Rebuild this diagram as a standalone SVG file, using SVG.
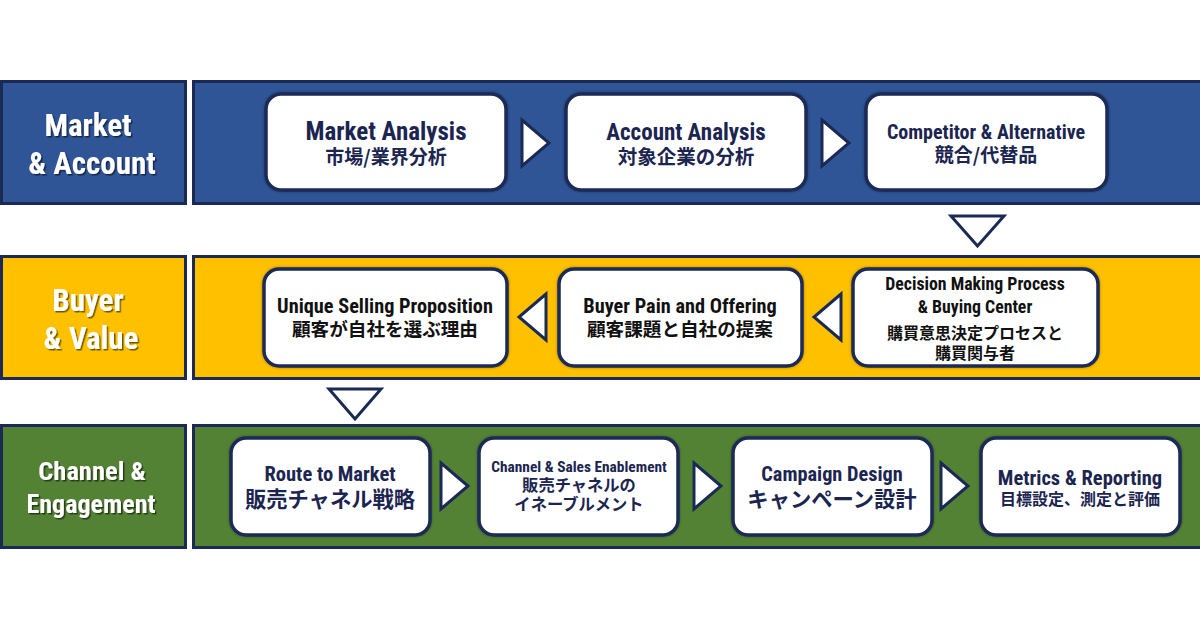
<svg xmlns="http://www.w3.org/2000/svg" width="1200" height="630" viewBox="0 0 1200 630">
<defs>
<filter id="ts" x="-10%" y="-10%" width="130%" height="140%">
<feDropShadow dx="1.5" dy="1.5" stdDeviation="0.6" flood-color="#000" flood-opacity="0.55"/>
</filter>
<filter id="glow" x="-5%" y="-5%" width="110%" height="110%">
<feDropShadow dx="0" dy="0" stdDeviation="1.5" flood-color="#000" flood-opacity="0.35"/>
</filter>
</defs>
<style>
.band{stroke:#1b2a55;stroke-width:3}
.blue{fill:#2f5597}
.yellow{fill:#ffc000}
.green{fill:#548235}
.node{fill:#fff;stroke:#1b2a55;stroke-width:3.5}
.lbl{font-family:"Liberation Sans Narrow","Roboto Condensed","Liberation Sans",Arial,sans-serif;font-weight:bold;fill:#fff;text-anchor:middle}
.t{font-family:"Liberation Sans Narrow","Roboto Condensed","Liberation Sans",Arial,sans-serif;font-weight:bold;fill:#1b2550;text-anchor:middle}
.j{font-family:"Noto Sans CJK JP","Noto Sans",sans-serif;font-weight:bold;fill:#1b2550;text-anchor:middle}
.k{fill:#111}
.arr{fill:#fff;stroke:#1b2a55;stroke-width:3;stroke-linejoin:miter}
</style>
<rect width="1200" height="630" fill="#fff"/>

<g id="row1">
<rect class="band blue" x="1.5" y="81.5" width="184" height="122"/>
<rect class="band blue" x="193.5" y="81.5" width="1008" height="122"/>
<text class="lbl" filter="url(#ts)" font-size="31" x="88" y="136">Market</text>
<text class="lbl" filter="url(#ts)" font-size="31" x="92" y="174">&amp; Account</text>
</g>
<g id="row2">
<rect class="band yellow" x="1.5" y="256.5" width="184" height="122"/>
<rect class="band yellow" x="193.5" y="256.5" width="1008" height="122"/>
<text class="lbl" filter="url(#ts)" font-size="31" x="88" y="311">Buyer</text>
<text class="lbl" filter="url(#ts)" font-size="31" x="91" y="349">&amp; Value</text>
</g>
<g id="row3">
<rect class="band green" x="1.5" y="425.5" width="184" height="122"/>
<rect class="band green" x="193.5" y="425.5" width="1008" height="122"/>
<text class="lbl" filter="url(#ts)" font-size="26.5" x="92" y="480">Channel &amp;</text>
<text class="lbl" filter="url(#ts)" font-size="26" x="91" y="513">Engagement</text>
</g>

<g id="connectors">
<polygon class="arr" points="522,120 549,143 522,166"/>
<polygon class="arr" points="822,120 849,143 822,166"/>
<polygon class="arr" points="951,216 1004,216 977.5,246"/>
<polygon class="arr" points="546,294 519,317 546,340"/>
<polygon class="arr" points="841,294 814,317 841,340"/>
<polygon class="arr" points="329,389 381,389 355,419"/>
<polygon class="arr" points="441,463 468,486 441,509"/>
<polygon class="arr" points="694,463 721,486 694,509"/>
<polygon class="arr" points="941,463 968,486 941,509"/>
</g>

<g id="n-market-analysis">
<rect class="node" filter="url(#glow)" x="266" y="94" width="240" height="96" rx="15"/>
<text class="t" font-size="25" x="386" y="140">Market Analysis</text>
<text class="j" font-size="19" x="386" y="164">市場/業界分析</text>
</g>
<g id="n-account-analysis">
<rect class="node" filter="url(#glow)" x="566" y="94" width="240" height="96" rx="15"/>
<text class="t" font-size="23" x="686" y="140">Account Analysis</text>
<text class="j" font-size="19.5" x="686" y="164">対象企業の分析</text>
</g>
<g id="n-competitor">
<rect class="node" filter="url(#glow)" x="866" y="94" width="241" height="96" rx="15"/>
<text class="t" font-size="20" x="986" y="139">Competitor &amp; Alternative</text>
<text class="j" font-size="19" x="986" y="162">競合/代替品</text>
</g>

<g id="n-usp">
<rect class="node" filter="url(#glow)" x="264" y="269" width="243" height="97" rx="15"/>
<text class="t k" font-size="20.3" x="385" y="313">Unique Selling Proposition</text>
<text class="j k" font-size="18.6" x="385" y="336">顧客が自社を選ぶ理由</text>
</g>
<g id="n-buyer-pain">
<rect class="node" filter="url(#glow)" x="559" y="269" width="243" height="97" rx="15"/>
<text class="t k" font-size="20.3" x="680" y="313">Buyer Pain and Offering</text>
<text class="j k" font-size="18.6" x="680" y="336">顧客課題と自社の提案</text>
</g>
<g id="n-decision">
<rect class="node" filter="url(#glow)" x="853" y="269" width="245" height="97" rx="15"/>
<text class="t k" font-size="17.8" x="975" y="290">Decision Making Process</text>
<text class="t k" font-size="17.8" x="975" y="313">&amp; Buying Center</text>
<text class="j k" font-size="16" x="975" y="339">購買意思決定プロセスと</text>
<text class="j k" font-size="16" x="975" y="359">購買関与者</text>
</g>

<g id="n-route">
<rect class="node" filter="url(#glow)" x="231" y="438" width="199" height="97" rx="15"/>
<text class="t" font-size="20.5" x="330" y="481">Route to Market</text>
<text class="j" font-size="21.3" x="330" y="507">販売チャネル戦略</text>
</g>
<g id="n-channel-sales">
<rect class="node" filter="url(#glow)" x="479" y="438" width="199" height="97" rx="15"/>
<text class="t" font-size="15.4" x="579" y="472">Channel &amp; Sales Enablement</text>
<text class="j" font-size="16.3" x="579" y="491">販売チャネルの</text>
<text class="j" font-size="16.3" x="579" y="510">イネーブルメント</text>
</g>
<g id="n-campaign">
<rect class="node" filter="url(#glow)" x="733" y="438" width="199" height="97" rx="15"/>
<text class="t" font-size="20.3" x="832" y="481">Campaign Design</text>
<text class="j" font-size="21.3" x="832" y="507">キャンペーン設計</text>
</g>
<g id="n-metrics">
<rect class="node" filter="url(#glow)" x="981" y="438" width="199" height="97" rx="15"/>
<text class="t" font-size="20.5" x="1080" y="485">Metrics &amp; Reporting</text>
<text class="j" font-size="16" x="1080" y="505">目標設定、測定と評価</text>
</g>
</svg>
